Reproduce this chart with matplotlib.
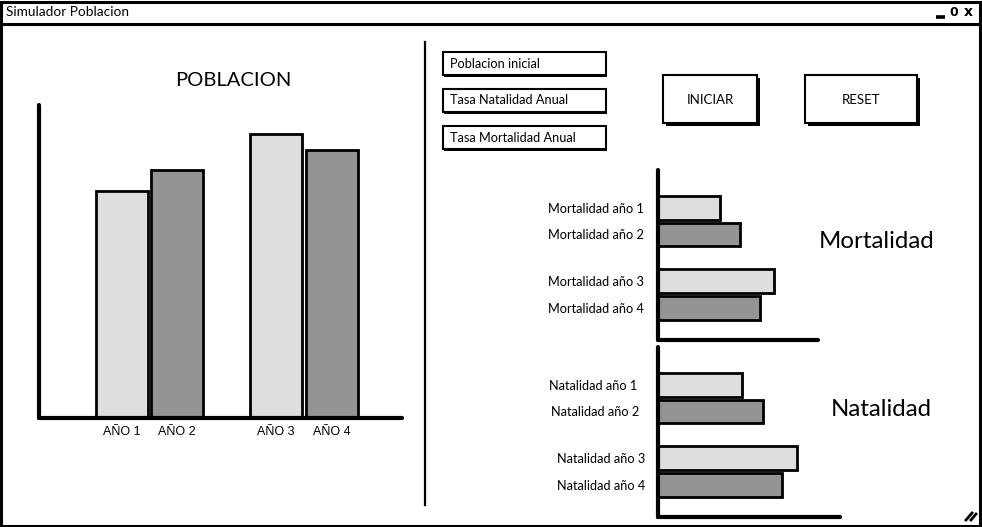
import matplotlib
matplotlib.use("Agg")
import matplotlib.pyplot as plt
from matplotlib.patches import Rectangle

# =========================
# Data
# =========================
pob_labels = ["AÑO 1", "AÑO 2", "AÑO 3", "AÑO 4"]
pob_values = [227, 248, 284, 268]

mort_labels = ["Mortalidad año 1", "Mortalidad año 2", "Mortalidad año 3", "Mortalidad año 4"]
mort_values = [62, 82, 116, 102]

nat_labels = ["Natalidad año 1", "Natalidad año 2", "Natalidad año 3", "Natalidad año 4"]
nat_values = [84, 105, 139, 124]

input_labels = ["Poblacion inicial", "Tasa Natalidad Anual", "Tasa Mortalidad Anual"]
button_labels = ["INICIAR", "RESET"]

bar_colors = ["#dedede", "#949494", "#dedede", "#949494"]
HAND = "Lato"
W, H = 982, 527

fig = plt.figure(figsize=(W / 100, H / 100), dpi=100)
fig.patch.set_facecolor("white")


def px_axes(x0, y0, x1, y1, **kw):
    # pixel box (top-left origin) -> figure axes
    return fig.add_axes([x0 / W, (H - y1) / H, (x1 - x0) / W, (y1 - y0) / H], **kw)


# =========================
# Window frame / widgets
# =========================
bg = px_axes(0, 0, W, H)
bg.set_xlim(0, W)
bg.set_ylim(H, 0)
bg.axis("off")

bg.add_patch(Rectangle((1.5, 1.5), W - 3, H - 3, fill=False, lw=2.2, ec="black"))
bg.plot([1.5, W - 1.5], [24, 24], color="black", lw=2.2)
bg.text(6, 12.5, "Simulador Poblacion", family=HAND, fontsize=9.8, va="center", ha="left")
# title bar icons
bg.plot([936, 945], [17, 17], color="black", lw=2.6, solid_capstyle="butt")
bg.text(954, 12.5, "0", family="DejaVu Sans", fontsize=9, fontweight="bold", va="center", ha="center")
bg.text(968, 12.5, "x", family="DejaVu Sans", fontsize=10, fontweight="bold", va="center", ha="center")
# resize grip
bg.plot([966, 972], [520, 513], color="black", lw=2)
bg.plot([971, 976], [520, 514], color="black", lw=2)

# separator
bg.plot([425, 425], [42, 505], color="black", lw=1.6)

# input boxes
for i, lab in enumerate(input_labels):
    y0 = 52 + i * 37
    bg.add_patch(Rectangle((444.5, y0 + 1.5), 163, 23, fc="black", ec="none"))
    bg.add_patch(Rectangle((443, y0), 163, 23, fc="white", ec="black", lw=1.5))
    bg.text(450, y0 + 11.5, lab, family=HAND, fontsize=9.2, va="center", ha="left")

# buttons
for (x0, x1), lab in zip([(663, 757), (805, 917)], button_labels):
    bg.add_patch(Rectangle((x0 + 3, 78), x1 - x0, 48, fc="black", ec="none"))
    bg.add_patch(Rectangle((x0, 75), x1 - x0, 48, fc="white", ec="black", lw=1.5))
    bg.text((x0 + x1) / 2, 100, lab, family=HAND, fontsize=9.5, va="center", ha="center")


def style_axes(ax):
    for s in ["top", "right"]:
        ax.spines[s].set_visible(False)
    for s in ["left", "bottom"]:
        ax.spines[s].set_linewidth(3)
        ax.spines[s].set_capstyle("round")
        ax.spines[s].set_color("black")
    ax.set_facecolor("none")


# =========================
# POBLACION (vertical bars)
# =========================
ax = px_axes(39, 105, 402, 418)
pos = [0, 1, 2.8, 3.82]
ax.bar(pos, pob_values, width=0.945, color=bar_colors, edgecolor="black", linewidth=2)
ax.set_xlim(-1.51, 5.09)
ax.set_ylim(0, 313)
ax.set_yticks([])
ax.set_xticks(pos)
ax.set_xticklabels(pob_labels, family="Liberation Sans", fontsize=9)
ax.tick_params(axis="x", length=0, pad=6)
style_axes(ax)
bg.text(233, 80, "POBLACION", family=HAND, fontsize=14.5, va="center", ha="center")

# =========================
# Mortalidad / Natalidad (horizontal bars)
# =========================
hpos = [0, 1, 2.77, 3.77]
for (y0, y1, x1), labels, values, title, ty, tx, pads in [
    ((170, 340, 818), mort_labels, mort_values, "Mortalidad", 241, 877, [10, 10, 10, 10]),
    ((347, 517, 840), nat_labels, nat_values, "Natalidad", 410, 881, [15, 13.5, 9, 9]),
]:
    axh = px_axes(658, y0, x1, y1)
    axh.barh(hpos, values, height=0.9, color=bar_colors, edgecolor="black", linewidth=2)
    axh.set_xlim(0, x1 - 658)
    axh.set_ylim(4.98, -1.43)
    axh.set_xticks([])
    axh.set_yticks(hpos)
    axh.set_yticklabels(labels, family=HAND, fontsize=9.2)
    axh.tick_params(axis="y", length=0)
    for tk, p in zip(axh.yaxis.get_major_ticks(), pads):
        tk.set_pad(p)
    style_axes(axh)
    bg.text(tx, ty, title, family=HAND, fontsize=17.3, va="center", ha="center")

fig.savefig("out.png", dpi=100)
